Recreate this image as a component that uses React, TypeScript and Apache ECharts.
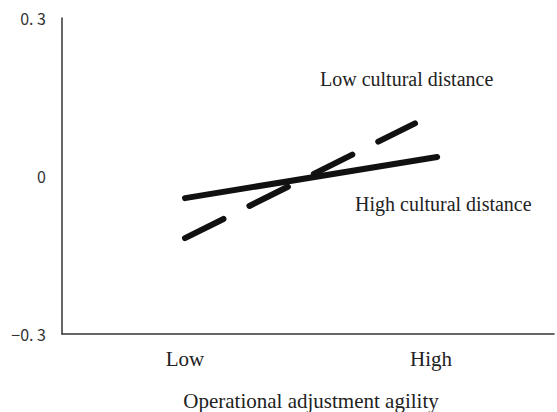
import React, { useEffect, useRef } from "react";
import * as echarts from "echarts";

const xTickLabels = ["", "Low", "", "High", ""];
const yTickValues = [-0.3, 0, 0.3];
const yTickLabels = ["\u22120. 3", "0", "0. 3"];
const highCulturalDistance: [number, number][] = [
  [1, -0.042],
  [3.05, 0.036],
];
const lowCulturalDistance: [number, number][] = [
  [1, -0.118],
  [2.87, 0.1],
];
const annotations = ["Low cultural distance", "High cultural distance"];
const xAxisTitle = "Operational adjustment agility";

export default function App() {
  const ref = useRef<HTMLDivElement>(null);
  useEffect(() => {
    if (!ref.current) return;
    document.body.style.margin = "0";
    const chart = echarts.init(ref.current, undefined, { renderer: "svg" });
    const serif = "Liberation Serif";
    chart.setOption({
      animation: false,
      grid: { left: 62, right: 2, top: 18, bottom: 78 },
      xAxis: {
        type: "value",
        min: 0,
        max: 4,
        interval: 1,
        axisLine: { show: true, onZero: false, lineStyle: { color: "#333", width: 1.5 } },
        axisTick: { show: false },
        splitLine: { show: false },
        axisLabel: {
          margin: 14,
          fontFamily: serif,
          fontSize: 21,
          color: "#222",
          formatter: (v: number) => xTickLabels[Math.round(v)] ?? "",
        },
      },
      yAxis: {
        type: "value",
        min: -0.3,
        max: 0.3,
        interval: 0.3,
        axisLine: { show: true, lineStyle: { color: "#333", width: 1.5 } },
        axisTick: { show: false },
        splitLine: { show: false },
        axisLabel: {
          margin: 16,
          fontFamily: "Noto Sans CJK JP",
          fontSize: 16,
          color: "#333",
          formatter: (v: number) => {
            const i = yTickValues.findIndex((t) => Math.abs(t - v) < 1e-6);
            return i >= 0 ? yTickLabels[i] : "";
          },
        },
      },
      series: [
        {
          type: "line",
          data: highCulturalDistance,
          symbol: "none",
          lineStyle: { color: "#111", width: 6, cap: "round" },
        },
        {
          type: "line",
          data: lowCulturalDistance,
          symbol: "none",
          lineStyle: { color: "#111", width: 6, cap: "round", type: [43, 29] },
        },
      ],
      graphic: [
        {
          type: "text",
          x: 320,
          y: 79,
          style: { text: annotations[0], font: `20px "${serif}"`, fill: "#222", verticalAlign: "middle" },
        },
        {
          type: "text",
          x: 355,
          y: 204,
          style: { text: annotations[1], font: `20px "${serif}"`, fill: "#222", verticalAlign: "middle" },
        },
        {
          type: "text",
          x: 311,
          y: 401,
          style: { text: xAxisTitle, font: `21px "${serif}"`, fill: "#222", align: "center", verticalAlign: "middle" },
        },
      ],
    });
    return () => chart.dispose();
  }, []);
  return <div ref={ref} style={{ width: 557, height: 412 }} />;
}
